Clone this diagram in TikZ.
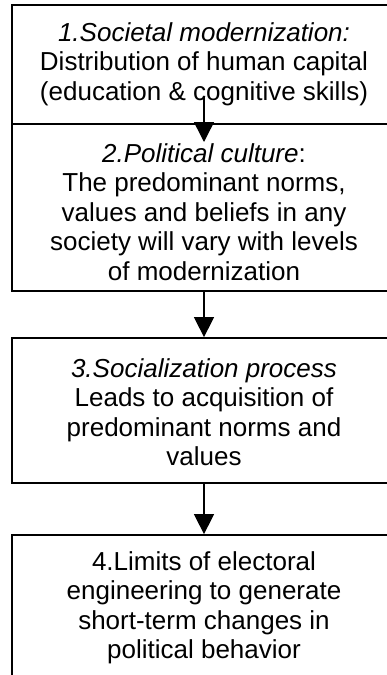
\documentclass[tikz,border=0pt]{standalone}
\usepackage{fontspec}
\setmainfont{Liberation Sans}
\usetikzlibrary{arrows.meta}
\begin{document}
\begin{tikzpicture}[x=1pt,y=1pt,
  box/.style={draw=black,line width=1.8pt,fill=white,minimum width=384pt,inner sep=0pt},
  txt/.style={align=center,inner sep=0pt,font=\fontsize{26}{29.5}\selectfont},
  conn/.style={line width=1.5pt,-{Triangle[width=20pt,length=20pt]}}]
\useasboundingbox (0,0) rectangle (386,-675);
\fill[white] (0,0) rectangle (386,-675);
% boxes
\node[box,minimum height=119pt] (b1) at (204,-64.5) {};
\node[box,minimum height=167pt] (b2) at (204,-207.5) {};
\node[box,minimum height=145pt] (b3) at (204,-410.5) {};
\node[box,minimum height=170pt] (b4) at (204,-620) {};
% texts
\node[txt] (t1) at (204,-64) {\textit{1.Societal modernization:}\\Distribution of human capital\\(education \& cognitive skills)};
\node[txt] (t2) at (204,-212) {\textit{2.Political culture}:\\The predominant norms,\\values and beliefs in any\\society will vary with levels\\of modernization};
\node[txt] (t3) at (204,-412) {\textit{3.Socialization process}\\Leads to acquisition of\\predominant norms and\\values};
\node[txt] (t4) at (204,-608) {4.Limits of electoral\\engineering to generate\\short-term changes in\\political behavior};
% connectors
\coordinate (a1s) at (204,-97);
\coordinate (a1e) at (204,-142);
\draw[conn] (a1s) -- (a1e);
\draw[conn] (b2.south) -- (b3.north);
\draw[conn] (b3.south) -- (b4.north);
\end{tikzpicture}
\end{document}
